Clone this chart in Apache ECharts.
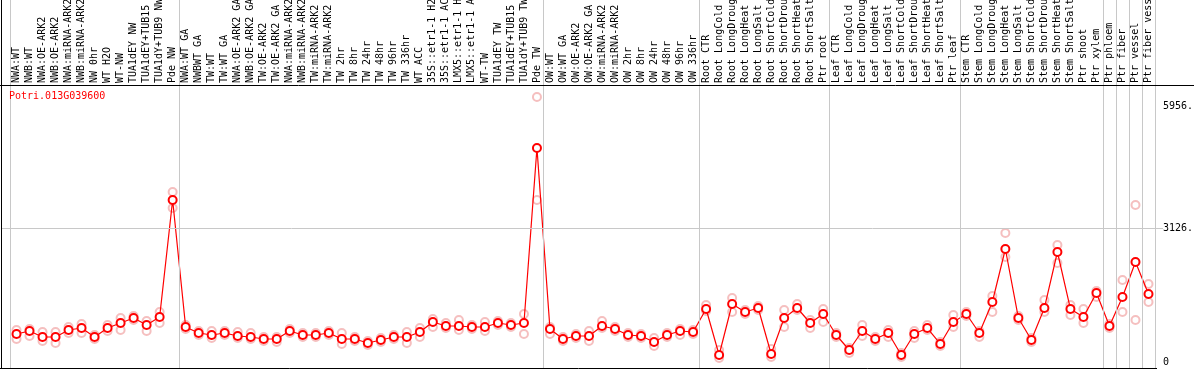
<!DOCTYPE html>
<html>
<head>
<meta charset="utf-8">
<script src="https://cdn.jsdelivr.net/npm/echarts@6/dist/echarts.min.js"></script>
<style>
  html, body { margin: 0; padding: 0; background: #fff; }
  #chart { width: 1194px; height: 370px; }
</style>
</head>
<body>
<div id="chart"></div>
<script>
const geneName = 'Potri.013G039600'

const samples = [
  'NWA:WT', 'NWB:WT', 'NWA:OE-ARK2', 'NWB:OE-ARK2', 'NWA:miRNA-ARK2', 'NWB:miRNA-ARK2',
  'NW 0hr', 'WT H2O', 'WT-NW', 'TUA1dEY NW', 'TUA1dEY+TUB15', 'TUA1dY+TUB9 NW', 'Pde NW',
  'NWA:WT GA', 'NWBWT GA', 'TW:WT', 'TW:WT GA', 'NWA:OE-ARK2 GA', 'NWB:OE-ARK2 GA',
  'TW:OE-ARK2', 'TW:OE-ARK2 GA', 'NWA:miRNA-ARK2', 'NWB:miRNA-ARK2', 'TW:miRNA-ARK2',
  'TW:miRNA-ARK2', 'TW 2hr', 'TW 8hr', 'TW 24hr', 'TW 48hr', 'TW 96hr', 'TW 336hr', 'WT ACC',
  '35S::etr1-1 H2O', '35S::etr1-1 ACC', 'LMX5::etr1-1 H2O', 'LMX5::etr1-1 ACC', 'WT-TW',
  'TUA1dEY TW', 'TUA1dEY+TUB15 TW', 'TUA1dY+TUB9 TW', 'Pde TW',
  'OW:WT', 'OW:WT GA', 'OW:OE-ARK2', 'OW:OE-ARK2 GA', 'OW:miRNA-ARK2', 'OW:miRNA-ARK2',
  'OW 2hr', 'OW 8hr', 'OW 24hr', 'OW 48hr', 'OW 96hr', 'OW 336hr',
  'Root CTR', 'Root LongCold', 'Root LongDrought', 'Root LongHeat', 'Root LongSalt',
  'Root ShortCold', 'Root ShortDrought', 'Root ShortHeat', 'Root ShortSalt', 'Ptr root',
  'Leaf CTR', 'Leaf LongCold', 'Leaf LongDrought', 'Leaf LongHeat', 'Leaf LongSalt',
  'Leaf ShortCold', 'Leaf ShortDrought', 'Leaf ShortHeat', 'Leaf ShortSalt', 'Ptr leaf',
  'Stem CTR', 'Stem LongCold', 'Stem LongDrought', 'Stem LongHeat', 'Stem LongSalt',
  'Stem ShortCold', 'Stem ShortDrought', 'Stem ShortHeat', 'Stem ShortSalt', 'Ptr shoot',
  'Ptr xylem', 'Ptr phloem', 'Ptr fiber', 'Ptr vessel', 'Ptr fiber vessel'
]

// mean expression
const meanValues = [
  653, 723, 583, 583, 747, 793, 583, 793, 910, 1027, 863, 1050, 3780,
  817, 677, 630, 677, 607, 583, 537, 537, 723, 630, 630, 677, 537, 537, 443, 513, 583, 583, 700,
  933, 840, 840, 817, 817, 910, 863, 910, 4993,
  770, 537, 607, 607, 840, 770, 630, 607, 467, 630, 723, 700,
  1237, 163, 1353, 1167, 1260, 187, 1027, 1260, 910, 1120,
  630, 280, 723, 537, 677, 163, 653, 793, 420, 933,
  1120, 677, 1400, 2636, 1027, 513, 1260, 2566, 1237, 1050, 1610,
  840, 1516, 2333, 1586
]

// replicates
const repHigh = [
  747, 770, 700, 700, 817, 887, 630, 863, 1027, 1073, 957, 1167, 3966,
  863, 723, 723, 723, 700, 677, 583, 583, 770, 677, 677, 723, 677, 583, 490, 560, 630, 700, 793,
  1003, 910, 980, 863, 933, 957, 910, 1120, 6182,
  817, 583, 653, 723, 957, 817, 677, 653, 560, 677, 770, 747,
  1330, 280, 1493, 1213, 1307, 303, 1213, 1353, 980, 1237,
  677, 327, 863, 583, 747, 210, 723, 863, 467, 1097,
  1167, 723, 1540, 3010, 1073, 560, 1447, 2730, 1330, 1237, 1657,
  887, 1913, 3663, 1820
]
const repLow = [
  537, 607, 490, 443, 677, 677, 537, 723, 747, 980, 723, 910, 3593,
  770, 630, 560, 630, 560, 537, 490, 467, 677, 583, 583, 630, 420, 490, 397, 467, 537, 443, 583,
  817, 793, 747, 770, 723, 863, 817, 653, 3780,
  653, 490, 560, 490, 793, 723, 583, 560, 373, 583, 630, 653,
  1190, 93, 1167, 1120, 1213, 117, 817, 1213, 793, 933,
  583, 210, 607, 490, 583, 117, 560, 747, 373, 817,
  1073, 583, 1167, 2450, 980, 467, 1167, 2310, 1097, 910, 1517,
  793, 1167, 980, 1400
]

const groupEdges = [0, 13, 41, 53, 63, 73, 84, 85, 86, 87, 88]
const yLabels = [0, 3126, 5956]
const midLine = 3126

const chart = echarts.init(document.getElementById('chart'))
const mono = 'DejaVu Sans Mono'

const option = {
  animation: false,
  title: {
    text: geneName,
    left: 9,
    top: 91,
    padding: 0,
    textStyle: { color: '#ff0000', fontSize: 10, fontFamily: mono, fontWeight: 'normal' }
  },
  grid: [
    { left: 10, right: 39, top: 85, bottom: 2, containLabel: false, outerBoundsMode: 'none' },
    { left: 1, right: 31, top: 0, bottom: 2, containLabel: false, outerBoundsMode: 'none' }
  ],
  xAxis: [
    {
      type: 'category',
      gridIndex: 0,
      position: 'top',
      data: samples,
      boundaryGap: true,
      axisLine: { show: false },
      axisTick: { show: false },
      splitLine: { show: false },
      axisLabel: {
        interval: 0,
        rotate: 90,
        margin: 2,
        color: '#000',
        fontSize: 10,
        fontFamily: mono
      }
    },
    {
      type: 'value',
      gridIndex: 1,
      min: -0.6917,
      max: 88.617,
      show: false
    }
  ],
  yAxis: [
    {
      type: 'value',
      gridIndex: 0,
      position: 'right',
      min: -140,
      max: 6462,
      axisLine: { show: false },
      axisTick: { show: false },
      splitLine: { show: false },
      axisLabel: {
        customValues: yLabels,
        formatter: v => v === 0 ? '0' : v + '.',
        margin: 8,
        padding: [4, 0, 0, 0],
        color: '#000',
        fontSize: 10,
        fontFamily: mono
      }
    },
    {
      type: 'value',
      gridIndex: 1,
      min: -140,
      max: 8445,
      show: false
    }
  ],
  series: [
    {
      type: 'scatter',
      xAxisIndex: 1,
      yAxisIndex: 1,
      data: [],
      silent: true,
      z: 1,
      markLine: {
        silent: true,
        symbol: 'none',
        label: { show: false },
        lineStyle: { color: '#c8c8c8', width: 1, type: 'solid' },
        data: groupEdges.map(e => ({ xAxis: e })).concat([{ yAxis: midLine }])
      }
    },
    {
      name: 'rep1',
      type: 'scatter',
      data: repHigh,
      symbol: 'emptyCircle',
      symbolSize: 8,
      z: 2,
      itemStyle: { color: 'rgba(232, 110, 110, 0.55)', borderWidth: 1.3 }
    },
    {
      name: 'rep2',
      type: 'scatter',
      data: repLow,
      symbol: 'emptyCircle',
      symbolSize: 8,
      z: 2,
      itemStyle: { color: 'rgba(232, 110, 110, 0.55)', borderWidth: 1.3 }
    },
    {
      name: 'mean',
      type: 'line',
      data: meanValues,
      symbol: 'emptyCircle',
      symbolSize: 8,
      z: 3,
      lineStyle: { color: '#ff0000', width: 1.2 },
      itemStyle: { color: '#ff0000', borderWidth: 1.6 }
    }
  ],
  graphic: [
    // frame lines
    { type: 'line', shape: { x1: 0, y1: 85.5, x2: 1194, y2: 85.5 }, style: { stroke: '#000', lineWidth: 1 }, z: 10 },
    { type: 'line', shape: { x1: 1.5, y1: 0, x2: 1.5, y2: 369 }, style: { stroke: '#000', lineWidth: 1 }, z: 10 },
    { type: 'line', shape: { x1: 0, y1: 368.5, x2: 1157, y2: 368.5 }, style: { stroke: '#000', lineWidth: 1 }, z: 10 }
  ]
}

chart.setOption(option)
</script>
</body>
</html>
